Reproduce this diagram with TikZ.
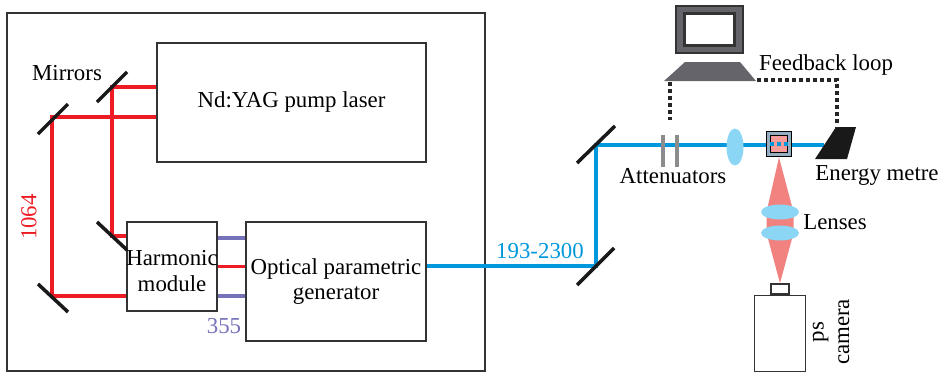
\documentclass[tikz,border=0pt]{standalone}
\usepackage{fontspec}
\setmainfont{Liberation Serif}
\usetikzlibrary{positioning, shapes.geometric}
\definecolor{irred}{RGB}{237,28,36}
\definecolor{uvpurple}{RGB}{118,114,186}
\definecolor{beamblue}{RGB}{0,152,220}
\definecolor{lensblue}{RGB}{140,214,245}
\definecolor{pumppink}{RGB}{242,130,128}
\definecolor{pcgrey}{RGB}{100,100,106}
\definecolor{attgrey}{RGB}{140,140,140}
\definecolor{cellgrey}{RGB}{150,174,196}

\begin{document}
\begin{tikzpicture}[
        x=0.02cm, y=-0.02cm,
        font=\fontsize{13}{14.5}\selectfont,
        box/.style={rectangle, draw=black!80, line width=0.8pt, inner sep=0pt},
        mirror/.style={line width=2pt, black!90},
        ir/.style={line width=2.2pt, irred},
        uv/.style={line width=2.2pt, uvpurple},
        beam/.style={line width=2.2pt, beamblue},
        lens/.style={ellipse, fill=lensblue, inner sep=0pt},
        att/.style={rectangle, fill=attgrey, minimum width=0.08cm, minimum height=0.64cm, inner sep=0pt},
        loop/.style={line width=2pt, black!85, dash pattern=on 2pt off 2pt}
    ]
    \useasboundingbox (0,0) rectangle (942,372);

    % laser enclosure
    \draw[black!80, line width=0.8pt] (7,13) rectangle (485,371);
    \node[box, minimum width=5.38cm, minimum height=2.38cm] (yag) at (291.5,102.5) {Nd:YAG pump laser};
    \node[box, minimum width=1.8cm, minimum height=1.78cm] (hm) at (172,266.5) {};
    \node[align=center] (hmtext) at (172,271) {Harmonic\\module};
    \node[box, minimum width=3.6cm, minimum height=2.38cm, align=center] (opg) at (336,281.5) {Optical parametric\\generator};

    % 1064 nm path through the fold mirrors
    \coordinate (m1) at (112,87);
    \coordinate (m2) at (112,236);
    \coordinate (m3) at (52,117);
    \coordinate (m4) at (52,296);
    \coordinate (uv1) at (231,238);
    \coordinate (uv2) at (231,296);
    \draw[ir] (yag.west |- m1) -- (m1) -- (m2) -- (m2 -| hm.west);
    \draw[ir] (yag.west |- m3) -- (m3) -- (m4) -- (m4 -| hm.west);
    \draw[ir] (hm.east) -- (hm.east -| opg.west);
    \draw[uv] (uv1 -| hm.east) -- (uv1 -| opg.west);
    \draw[uv] (uv2 -| hm.east) -- (uv2 -| opg.west);
    \draw[mirror] (m1) ++(-15,15) -- ++(30,-30);
    \draw[mirror] (m2) ++(-15,-14) -- ++(30,28);
    \draw[mirror] (m3) ++(-14,17) -- ++(30,-30);
    \draw[mirror] (m4) ++(-14,-12) -- ++(30,28);

    \node[anchor=base] (mirrortext) at (67,80) {Mirrors};
    \node[irred, rotate=90] (irtext) at (29,217) {1064};
    \node[uvpurple, anchor=base] (uvtext) at (224,333) {355};

    % output beam to the experiment
    \coordinate (m5) at (596,266);
    \coordinate (m6) at (596,145);
    \coordinate (em) at (824,145);
    \draw[beam] (opg.east |- m5) -- (m5) -- (m6) -- (em);
    \draw[mirror] (m5) ++(-19,19) -- ++(37,-37);
    \draw[mirror] (m6) ++(-19,18) -- ++(38,-37);
    \node[beamblue, anchor=base] (bandtext) at (540,258) {193-2300};

    \node[att] (att1) at (663,151) {};
    \node[att] (att2) at (677,151) {};
    \node[anchor=base] (atttext) at (673,183) {Attenuators};
    \node[lens, minimum width=0.34cm, minimum height=0.74cm] (lens) at (735,147) {};

    % sample cell and imaging arm
    \coordinate (l1) at (780,212);
    \coordinate (l2) at (780,233);
    \node[box, minimum width=0.36cm, minimum height=0.2cm] (lid) at (780,289) {};
    \node[box, minimum width=1.02cm, minimum height=1.52cm, below=0pt of lid] (cam) {};
    \node[rectangle, draw=black, line width=1pt, fill=cellgrey, minimum size=0.5cm, inner sep=0pt] (cell) at (779,144) {};
    \fill[pumppink] (cell.south) -- ([xshift=-0.27cm]l1) -- ([xshift=-0.27cm]l2) -- (lid.north)
        -- ([xshift=0.27cm]l2) -- ([xshift=0.27cm]l1) -- cycle;
    \node[rectangle, draw=black, line width=0.5pt, fill=pumppink!80, minimum size=0.34cm, inner sep=0pt] (core) at (cell) {};
    \draw[beam, dash pattern=on 2pt off 2pt] (core.west) -- (core.east);
    \node[lens, minimum width=0.76cm, minimum height=0.3cm] (lens1) at (l1) {};
    \node[lens, minimum width=0.76cm, minimum height=0.3cm] (lens2) at (l2) {};
    \node[anchor=base] (lenstext) at (835,229) {Lenses};
    \node[rotate=90, align=center] (camtext) at (831,332) {ps\\camera};

    % energy metre
    \fill[black!90] (815,159) -- (847,159) -- (856,127) -- (836,127) -- cycle;
    \coordinate (emtop) at (837,127);
    \node[anchor=base] (emtext) at (877,180) {Energy metre};

    % computer
    \node[box, fill=pcgrey, minimum width=1.34cm, minimum height=0.94cm] (pc) at (709.5,29.5) {};
    \node[rectangle, fill=white, draw=black!80, line width=1.2pt, minimum width=1.0cm, minimum height=0.64cm] (screen) at (pc) {};
    \fill[pcgrey] (664,81) -- (756,81) -- (740,62) -- (685,62) -- cycle;
    \coordinate (kbl) at (670,82);
    \coordinate (kbr) at (757,80);
    \coordinate (attend) at (670,120);
    \draw[loop] (kbl) -- (attend);
    \draw[loop] (kbr) -- (kbr -| emtop) -- (emtop);
    \node[anchor=base] (looptext) at (826,70) {Feedback loop};
\end{tikzpicture}
\end{document}
